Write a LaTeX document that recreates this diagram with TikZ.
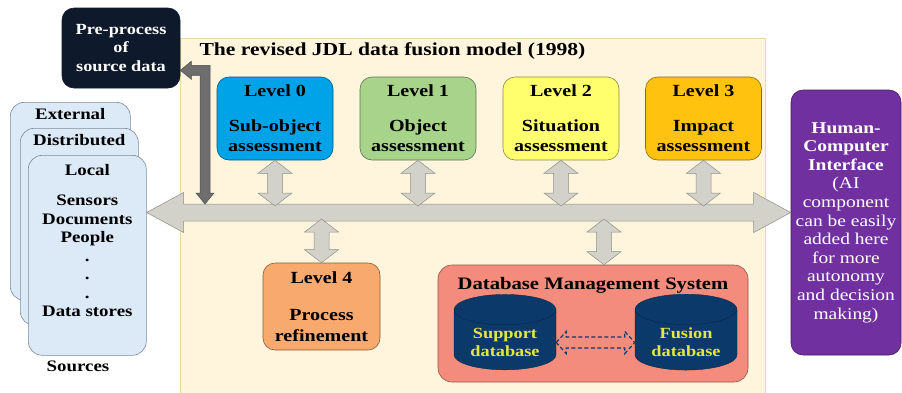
\documentclass[tikz,border=0pt]{standalone}
\usepackage{fontspec}
\setmainfont{Liberation Serif}[FakeStretch=1.18]
\usetikzlibrary{shapes.geometric, calc, positioning}

\definecolor{panelfill}{HTML}{FEF5DC}
\definecolor{panelline}{HTML}{EAD9A8}
\definecolor{prefill}{HTML}{0E1A2B}
\definecolor{srcfill}{HTML}{DCEAF8}
\definecolor{srcline}{HTML}{7D8B99}
\definecolor{lzero}{HTML}{00A2E8}
\definecolor{lone}{HTML}{A8D38A}
\definecolor{ltwo}{HTML}{FFFF6E}
\definecolor{lthree}{HTML}{FFC20E}
\definecolor{lfour}{HTML}{F8A96E}
\definecolor{dbmsfill}{HTML}{F38C7D}
\definecolor{dbfill}{HTML}{0B396A}
\definecolor{dbtext}{HTML}{E5E83A}
\definecolor{hcifill}{HTML}{7030A0}
\definecolor{linkfill}{HTML}{D2D2CA}
\definecolor{linkline}{HTML}{8E8E8A}
\definecolor{ppfill}{HTML}{6E6E6E}

\begin{document}
\begin{tikzpicture}[x=1pt,y=-1pt]
\tikzset{panel/.style={draw=panelline, fill=panelfill, anchor=north west, minimum width=585pt, minimum height=360pt},
  box/.style={draw, rounded corners=12pt, align=center, line width=0.6pt, font=\fontsize{17}{20.5}\selectfont\bfseries},
  level/.style={box, fill=#1, draw=#1!55!black, minimum width=116pt, minimum height=83pt},
  src/.style={draw=srcline, fill=srcfill, rounded corners=14pt, line width=0.6pt, anchor=north west},
  srctxt/.style={align=center, font=\fontsize{16}{18.5}\selectfont\bfseries},
  db/.style={cylinder, shape border rotate=90, aspect=0.4, draw=dbfill!70!black, fill=dbfill, minimum width=102pt, minimum height=61pt, text=dbtext, align=center, font=\fontsize{15.5}{18}\selectfont\bfseries},
  link/.style={draw=linkline, fill=linkfill, line width=0.5pt},
  dlink/.style={draw=dbfill, line width=1.2pt, dash pattern=on 4pt off 2.5pt},
  hlink/.style n args={3}{to path={let \p1=(\tikztostart),\p2=(\tikztotarget) in (\x1,\y1) -- (\x1+#3,\y1+#2) -- (\x1+#3,\y1+#1) -- (\x2-#3,\y1+#1) -- (\x2-#3,\y1+#2) -- (\x2,\y1) -- (\x2-#3,\y1-#2) -- (\x2-#3,\y1-#1) -- (\x1+#3,\y1-#1) -- (\x1+#3,\y1-#2) -- cycle}},
  vlink/.style n args={3}{to path={let \p1=(\tikztostart),\p2=(\tikztotarget) in (\x1,\y1) -- (\x1+#2,\y1-#3) -- (\x1+#1,\y1-#3) -- (\x1+#1,\y2+#3) -- (\x1+#2,\y2+#3) -- (\x1,\y2) -- (\x1-#2,\y2+#3) -- (\x1-#1,\y2+#3) -- (\x1-#1,\y1-#3) -- (\x1-#2,\y1-#3) -- cycle}}}
	\useasboundingbox (0,0) rectangle (902,392);
	\node[panel] (panel) at (180,38) {};
	\node[anchor=west, font=\fontsize{18.3}{20}\selectfont\bfseries] (title) at (196,51) {The revised JDL data fusion model (1998)};
	\node[box, fill=prefill, draw=prefill, text=white, minimum width=118pt, minimum height=80pt, font=\fontsize{15.5}{18.5}\selectfont\bfseries] (pre) at (121,48) {Pre-process\\of\\source data};
	\node[src, minimum width=120pt, minimum height=198pt, label={[srctxt, below=3pt]north:External}] (ext) at (10,102) {};
	\node[src, minimum width=118pt, minimum height=197pt, label={[srctxt, below=3pt]north:Distributed}] (dist) at (20,128) {};
	\node[src, minimum width=118pt, minimum height=200pt, label={[srctxt, below=6pt]north:Local\\[11.5pt]Sensors\\Documents\\People\\.\\.\\.\\Data stores}] (local) at (28,155) {};
	\node[srctxt] (srclbl) at (78,366) {Sources};
	\node[level=lzero] (lev0) at (275,118.5) {Level 0\\[14pt]Sub-object\\assessment};
	\node[level=lone] (lev1) at (418,118.5) {Level 1\\[14pt]Object\\assessment};
	\node[level=ltwo] (lev2) at (561,118.5) {Level 2\\[14pt]Situation\\assessment};
	\node[level=lthree] (lev3) at (703.5,118.5) {Level 3\\[14pt]Impact\\assessment};
	\node[level=lfour, minimum width=117pt, minimum height=87pt] (lev4) at (321.5,306.5) {Level 4\\[16.5pt]Process\\refinement};
	\node[box, fill=dbmsfill, draw=dbmsfill!60!black, minimum width=310pt, minimum height=117pt, rounded corners=14pt, label={[below=9pt, font=\fontsize{17.5}{20}\selectfont\bfseries]north:Database Management System}] (dbms) at (593,323.5) {};
	\node[db] (sup) at (505,342.5) {Support\\database};
	\node[db] (fus) at (686,342.5) {Fusion\\database};
	\node[box, fill=hcifill, draw=hcifill!60!black, text=white, minimum width=110pt, minimum height=265pt, font=\fontsize{16.5}{18.6}\selectfont] (hci) at (846,222.5) {\textbf{Human-}\\\textbf{Computer}\\\textbf{Interface}\\(AI\\component\\can be easily\\added here\\for more\\autonomy\\and decision\\making)};
	\coordinate (busW) at (local.east |- 0,212.5);
	\coordinate (busE) at (hci.west |- busW);
	\coordinate (ppdown) at (205,204);
	\coordinate (dbtop) at ([xshift=11pt]dbms.north);
	\draw[link] (busW) to[hlink={8.5pt}{20pt}{37pt}] (busE);
	\foreach \lev in {lev0,lev1,lev2,lev3}
		\draw[link] (\lev.south) to[vlink={7.5pt}{17pt}{13pt}] (\lev.south |- 0,206);
	\draw[link] (lev4.north |- 0,219) to[vlink={7.5pt}{17pt}{13pt}] (lev4.north);
	\draw[link] (dbtop |- 0,219) to[vlink={7.5pt}{17pt}{13pt}] (dbtop);
	\draw[dlink] (sup.east) to[hlink={5.5pt}{11pt}{10pt}] (fus.west);
	\draw[draw=ppfill!70!black, fill=ppfill, line width=0.5pt] let \p1=([yshift=18pt]pre.south east), \p2=(ppdown) in (\x1,\y1) -- (\x1+11pt,\y1+9pt) -- (\x1+11pt,\y1+5pt) -- (\x2+5pt,\y1+5pt) -- (\x2+5pt,\y2+11pt) -- (\x2+9pt,\y2+11pt) -- (\x2,\y2) -- (\x2-9pt,\y2+11pt) -- (\x2-5pt,\y2+11pt) -- (\x2-5pt,\y1-5pt) -- (\x1+11pt,\y1-5pt) -- (\x1+11pt,\y1-9pt) -- cycle;
\end{tikzpicture}
\end{document}
